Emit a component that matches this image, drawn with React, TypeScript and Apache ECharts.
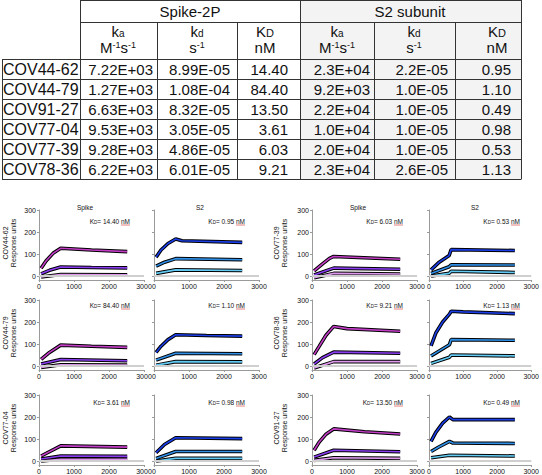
import React, { useEffect, useRef } from "react";
import * as echarts from "echarts";

const FONT = "'Liberation Sans', Arial, Helvetica, sans-serif";

// ---------- table data ----------
const antibodies = ["COV44-62", "COV44-79", "COV91-27", "COV77-04", "COV77-39", "COV78-36"];
const spikeKa = ["7.22E+03", "1.27E+03", "6.63E+03", "9.53E+03", "9.28E+03", "6.22E+03"];
const spikeKd = ["8.99E-05", "1.08E-04", "8.32E-05", "3.05E-05", "4.86E-05", "6.01E-05"];
const spikeKD = ["14.40", "84.40", "13.50", "3.61", "6.03", "9.21"];
const s2Ka = ["2.3E+04", "9.2E+03", "2.2E+04", "1.0E+04", "2.0E+04", "2.3E+04"];
const s2Kd = ["2.2E-05", "1.0E-05", "1.0E-05", "1.0E-05", "1.0E-05", "2.6E-05"];
const s2KD = ["0.95", "1.10", "0.49", "0.98", "0.53", "1.13"];
const groupHeaders = ["Spike-2P", "S2 subunit"];

// ---------- sensorgram axes ----------
const xTicks = [0, 1000, 2000, 3000];
const yTicks = [0, 100, 200, 300];
const panelTitles = ["Spike", "S2"];

// ---------- sensorgram curves: [time s, response units] (high, mid, low conc.) ----------
const cov4462Spike = [
  [[60, 35], [200, 68], [400, 103], [620, 126], [1500, 118], [2520, 111]],
  [[60, 10], [300, 26], [620, 41], [1500, 39], [2520, 37]],
  [[60, -4], [620, 7], [2520, 6]],
];
const cov4462S2 = [
  [[60, 86], [200, 118], [400, 148], [620, 168], [800, 160], [2520, 153]],
  [[60, 45], [300, 63], [620, 79], [2520, 74]],
  [[60, 12], [620, 28], [2520, 25]],
];
const cov4479Spike = [
  [[60, 30], [300, 62], [620, 95], [1500, 90], [2520, 85]],
  [[60, 9], [620, 30], [2520, 24]],
  [[60, -6], [620, 6], [2520, 4]],
];
const cov4479S2 = [
  [[60, 62], [200, 90], [400, 120], [620, 142], [1500, 139], [2520, 136]],
  [[60, 27], [620, 58], [2520, 56]],
  [[60, 4], [620, 20], [2520, 19]],
];
const cov7704Spike = [
  [[60, 23], [620, 69], [2520, 63]],
  [[60, 9], [620, 23], [2520, 21]],
  [[60, 0], [620, 8], [2520, 8]],
];
const cov7704S2 = [
  [[60, 38], [300, 75], [620, 106], [2520, 102]],
  [[60, 12], [620, 43], [2520, 43]],
  [[60, 0], [620, 12], [2520, 12]],
];
const cov7739Spike = [
  [[60, 23], [300, 55], [500, 80], [620, 89], [2520, 76]],
  [[60, 5], [620, 36], [2520, 31]],
  [[60, -8], [620, 12], [2520, 9]],
];
const cov7739S2 = [
  [[60, 28], [300, 63], [590, 93], [650, 120], [2520, 116]],
  [[60, 12], [590, 42], [650, 51], [2520, 50]],
  [[60, 0], [590, 12], [650, 22], [2520, 16]],
];
const cov7836Spike = [
  [[60, 52], [200, 88], [400, 140], [620, 180], [1000, 170], [2520, 158]],
  [[60, 9], [300, 38], [620, 63], [2520, 58]],
  [[60, -9], [620, 20], [2520, 20]],
];
const cov7836S2 = [
  [[60, 92], [200, 150], [400, 200], [600, 236], [650, 249], [1000, 246], [2520, 238]],
  [[60, 46], [600, 97], [650, 120], [2520, 117]],
  [[60, 12], [600, 40], [650, 50], [2520, 46]],
];
const cov9127Spike = [
  [[60, 49], [200, 85], [400, 122], [620, 146], [1500, 133], [2520, 123]],
  [[60, 18], [620, 49], [2520, 42]],
  [[60, 3], [620, 15], [2520, 12]],
];
const cov9127S2 = [
  [[60, 89], [200, 130], [400, 172], [600, 200], [700, 188], [2520, 188]],
  [[60, 43], [300, 65], [600, 89], [700, 82], [2520, 80]],
  [[60, 15], [600, 26], [2520, 23]],
];

const curveTable: Record<string, any[][][]> = {
  "COV44-62": [cov4462Spike, cov4462S2],
  "COV44-79": [cov4479Spike, cov4479S2],
  "COV77-04": [cov7704Spike, cov7704S2],
  "COV77-39": [cov7739Spike, cov7739S2],
  "COV78-36": [cov7836Spike, cov7836S2],
  "COV91-27": [cov9127Spike, cov9127S2],
};
const leftGroup = ["COV44-62", "COV44-79", "COV77-04"];
const rightGroup = ["COV77-39", "COV78-36", "COV91-27"];

const spikeColors = ["#c23dc6", "#8a3cf0", "#dc98ea"];
const s2Colors = ["#1b3ee6", "#2f8fe6", "#62c9f2"];

// ---------- layout ----------
const colLefts = [39, 154, 312, 429];
const rowTops = [210, 300, 395];
const kdY = [221, 305, 402];
const GW = 105;
const GH = 70;
const AX = "#9a9a9a";

function buildOption() {
  const grids: any[] = [];
  const xAxes: any[] = [];
  const yAxes: any[] = [];
  const series: any[] = [];
  const graphics: any[] = [];

  // ---------------- table ----------------
  const tl = (x1: number, y1: number, x2: number, y2: number) => ({
    type: "line",
    silent: true,
    shape: { x1, y1, x2, y2 },
    style: { stroke: "#333", lineWidth: 1 },
  });
  const vLines = [157, 237, 374, 455];
  const hRows = [59, 79, 99, 119, 139, 159, 179];
  const TR = 521;
  graphics.push({
    type: "rect",
    silent: true,
    shape: { x: 300, y: 0, width: TR - 300, height: 179 },
    style: { fill: "#f3f3f4" },
  });
  graphics.push(tl(80, 0.5, TR, 0.5));
  graphics.push(tl(80, 22.5, TR, 22.5));
  hRows.forEach((y) => graphics.push(tl(2, y + 0.5, TR, y + 0.5)));
  graphics.push(tl(80.5, 0, 80.5, 179.5));
  graphics.push(tl(300.5, 0, 300.5, 179.5));
  graphics.push(tl(TR + 0.5, 0, TR + 0.5, 179.5));
  graphics.push(tl(2.5, 59, 2.5, 179.5));
  vLines.forEach((x) => graphics.push(tl(x + 0.5, 22.5, x + 0.5, 179.5)));

  const txt = (x: number, y: number, text: string, align: string, size: number, rich?: any) => ({
    type: "text",
    silent: true,
    x,
    y,
    style: {
      text,
      align,
      verticalAlign: "middle",
      fontSize: size,
      fontFamily: FONT,
      fill: "#111",
      rich,
    },
  });
  graphics.push(txt(190, 11.5, groupHeaders[0], "center", 15));
  graphics.push(txt(410, 11.5, groupHeaders[1], "center", 15));

  const hdrRich = {
    b: { fontSize: 15, fontFamily: FONT, fill: "#111", lineHeight: 14 },
    sub: { fontSize: 10, fontFamily: FONT, fill: "#111", lineHeight: 8, verticalAlign: "bottom" },
    sup: { fontSize: 9, fontFamily: FONT, fill: "#111", lineHeight: 8, verticalAlign: "top" },
    sc: { fontSize: 11, fontFamily: FONT, fill: "#111", lineHeight: 10, verticalAlign: "bottom" },
  };
  const hdrCenters = [118, 197, 265, 337, 414, 497];
  const hdrTop = ["{b|k}{sub|a}", "{b|k}{sub|d}", "{b|K}{sc|D}"];
  const hdrBot = ["{b|M}{sup|-1}{b|s}{sup|-1}", "{b|s}{sup|-1}", "{b|nM}"];
  hdrCenters.forEach((cx, i) => {
    graphics.push(txt(cx, 31.5, hdrTop[i % 3], "center", 15, hdrRich));
    graphics.push(txt(cx, 47.5, hdrBot[i % 3], "center", 15, hdrRich));
  });

  const dataRight = [153, 230, 288, 370, 448, 511];
  const cols = [spikeKa, spikeKd, spikeKD, s2Ka, s2Kd, s2KD];
  antibodies.forEach((name, r) => {
    const cy = 59 + r * 20 + 10.5;
    graphics.push(txt(3, cy, name, "left", 16));
    cols.forEach((col, c) => graphics.push(txt(dataRight[c], cy, col[r], "right", 15)));
  });

  // ---------------- sensorgram panels ----------------
  let gi = 0;
  [leftGroup, rightGroup].forEach((group, g) => {
    group.forEach((name, r) => {
      const idx = antibodies.indexOf(name);
      const top = rowTops[r];
      // y axis name
      graphics.push({
        type: "text",
        silent: true,
        x: g === 0 ? 9.5 : 280.5,
        y: top + 33,
        rotation: Math.PI / 2,
        style: {
          text: name + "\nResponse units",
          align: "center",
          verticalAlign: "middle",
          fontSize: 7,
          lineHeight: 8.5,
          fontFamily: FONT,
          fill: "#111",
        },
      });
      [0, 1].forEach((c) => {
        const left = colLefts[g * 2 + c];
        const curves = curveTable[name][c];
        const colors = c === 0 ? spikeColors : s2Colors;
        const kd = c === 0 ? spikeKD[idx] : s2KD[idx];
        grids.push({ left, top, width: GW, height: GH });
        xAxes.push({
          gridIndex: gi,
          type: "value",
          min: xTicks[0],
          max: xTicks[xTicks.length - 1],
          interval: 1000,
          axisLine: { onZero: false, lineStyle: { color: AX, width: 1 } },
          axisTick: { show: true, length: 2, lineStyle: { color: AX } },
          axisLabel: {
            fontSize: 7,
            margin: 3,
            color: "#111",
            fontFamily: FONT,
            formatter: (v: number) => String(v),
          },
          splitLine: { show: false },
        });
        yAxes.push({
          gridIndex: gi,
          type: "value",
          min: -18,
          max: 300,
          axisLine: { show: true, lineStyle: { color: AX, width: 1 } },
          axisTick: { show: true, length: 2, customValues: yTicks, lineStyle: { color: AX } },
          axisLabel: {
            show: c === 0,
            customValues: yTicks,
            fontSize: 7,
            margin: 3,
            color: "#111",
            fontFamily: FONT,
            formatter: (v: number) => String(v),
          },
          splitLine: { show: false },
        });
        series.push({
          type: "line",
          xAxisIndex: gi,
          yAxisIndex: gi,
          data: [],
          silent: true,
          z: 1,
          markLine: {
            silent: true,
            symbol: ["none", "none"],
            label: { show: false },
            lineStyle: { color: "#cfcfcf", width: 2, type: "solid" },
            data: [{ yAxis: 0 }],
          },
        });
        curves.forEach((curve: any, k: number) => {
          series.push({
            type: "line",
            xAxisIndex: gi,
            yAxisIndex: gi,
            data: curve,
            symbol: "none",
            silent: true,
            z: 2,
            lineStyle: { color: "#000", width: 3.6 },
          });
          series.push({
            type: "line",
            xAxisIndex: gi,
            yAxisIndex: gi,
            data: curve,
            symbol: "none",
            silent: true,
            z: 3,
            lineStyle: { color: colors[k], width: 1.6 },
          });
        });
        // titles (first row only)
        if (r === 0) {
          graphics.push({
            type: "text",
            silent: true,
            x: left + 46,
            y: 207,
            style: {
              text: panelTitles[c],
              align: "center",
              verticalAlign: "middle",
              fontSize: 6.5,
              fontFamily: FONT,
              fill: "#111",
            },
          });
        }
        const kx = left + 91;
        const ky = kdY[r];
        graphics.push({
          type: "text",
          silent: true,
          x: kx,
          y: ky,
          style: {
            text: "{k|K}{d|D}{k|= " + kd + " nM}",
            align: "right",
            verticalAlign: "middle",
            fill: "#111",
            fontFamily: FONT,
            rich: {
              k: { fontSize: 6.5, fontFamily: FONT, fill: "#111", lineHeight: 8 },
              d: { fontSize: 4.5, fontFamily: FONT, fill: "#111", lineHeight: 5, verticalAlign: "bottom" },
            },
          },
        });
        graphics.push({
          type: "line",
          silent: true,
          shape: { x1: kx - 9, y1: ky + 4, x2: kx, y2: ky + 4 },
          style: { stroke: "#e06060", lineWidth: 0.8 },
        });
        gi++;
      });
    });
  });

  return {
    animation: false,
    backgroundColor: "#ffffff",
    grid: grids,
    xAxis: xAxes,
    yAxis: yAxes,
    series,
    graphic: { elements: graphics },
  };
}

export default function App() {
  const ref = useRef<HTMLDivElement>(null);
  useEffect(() => {
    const chart = echarts.init(ref.current!, null, { renderer: "svg" });
    chart.setOption(buildOption() as any);
    return () => chart.dispose();
  }, []);
  return (
    <div
      ref={ref}
      style={{ position: "absolute", left: 0, top: 0, width: 542, height: 475, background: "#fff" }}
    />
  );
}
